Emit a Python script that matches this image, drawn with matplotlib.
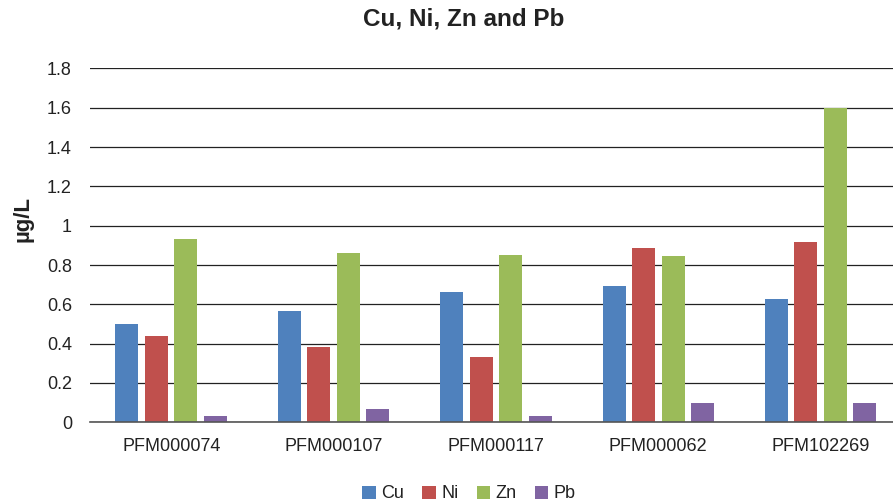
import numpy as np
import matplotlib
matplotlib.use('Agg')
import matplotlib.pyplot as plt
from matplotlib.patches import Patch

# --- Data: metal concentrations per sample (µg/L) ---
samples = ['PFM000074', 'PFM000107', 'PFM000117', 'PFM000062', 'PFM102269']
metals = ['Cu', 'Ni', 'Zn', 'Pb']
cu = [0.50, 0.565, 0.665, 0.695, 0.625]
ni = [0.44, 0.385, 0.33, 0.885, 0.915]
zn = [0.93, 0.86, 0.85, 0.845, 1.60]
pb = [0.03, 0.07, 0.03, 0.10, 0.10]
y_ticks = [0, 0.2, 0.4, 0.6, 0.8, 1, 1.2, 1.4, 1.6, 1.8]
y_tick_labels = ['0', '0.2', '0.4', '0.6', '0.8', '1', '1.2', '1.4', '1.6', '1.8']

colors = ['#4F81BD', '#C0504D', '#9BBB59', '#8064A2']
text_col = '#222222'

plt.rcParams['font.family'] = ['Liberation Sans', 'DejaVu Sans']

W, H = 893, 504
fig = plt.figure(figsize=(W / 100, H / 100), dpi=100)
# plot area runs slightly past the right edge of the canvas
ax = fig.add_axes([0.1008, 0.1621, 0.9091, 0.7022])

x = np.arange(len(samples))
bar_w = 0.1416
step = 0.1816
for i, (vals, col) in enumerate(zip([cu, ni, zn, pb], colors)):
    ax.bar(x + (i - 1.5) * step, vals, width=bar_w, color=col, zorder=3)

ax.set_xlim(-0.5, len(samples) - 0.5)
ax.set_ylim(0, 1.8)
ax.set_yticks(y_ticks)
ax.set_yticklabels(y_tick_labels)
ax.set_xticks(x)
ax.set_xticklabels(samples)
ax.tick_params(axis='both', length=0, labelsize=13, colors=text_col)
ax.tick_params(axis='y', pad=13)
ax.tick_params(axis='x', pad=11)

ax.grid(axis='y', color='#222222', linewidth=0.9, zorder=0)
for side in ['top', 'right', 'left']:
    ax.spines[side].set_visible(False)
ax.spines['bottom'].set_color('#555555')
ax.spines['bottom'].set_linewidth(1.2)
ax.spines['bottom'].set_zorder(4)

fig.text(23 / W, 1 - 219 / H, 'µg/L', rotation=90, ha='center', va='center',
         fontsize=16, fontweight='bold', color=text_col)
fig.text(464 / W, 1 - 25.7 / H, 'Cu, Ni, Zn and Pb', ha='center', va='baseline',
         fontsize=17.5, fontweight='bold', color=text_col)

handles = [Patch(facecolor=c, label=m) for c, m in zip(colors, metals)]
fig.legend(handles=handles, loc='center', bbox_to_anchor=(469 / W, 1 - 494 / H),
           ncol=4, frameon=False, fontsize=13, handlelength=0.75, handleheight=0.75,
           handletextpad=0.3, columnspacing=1.0, labelcolor=text_col,
           borderaxespad=0, borderpad=0)

fig.savefig('out.png', dpi=100)
plt.close(fig)
